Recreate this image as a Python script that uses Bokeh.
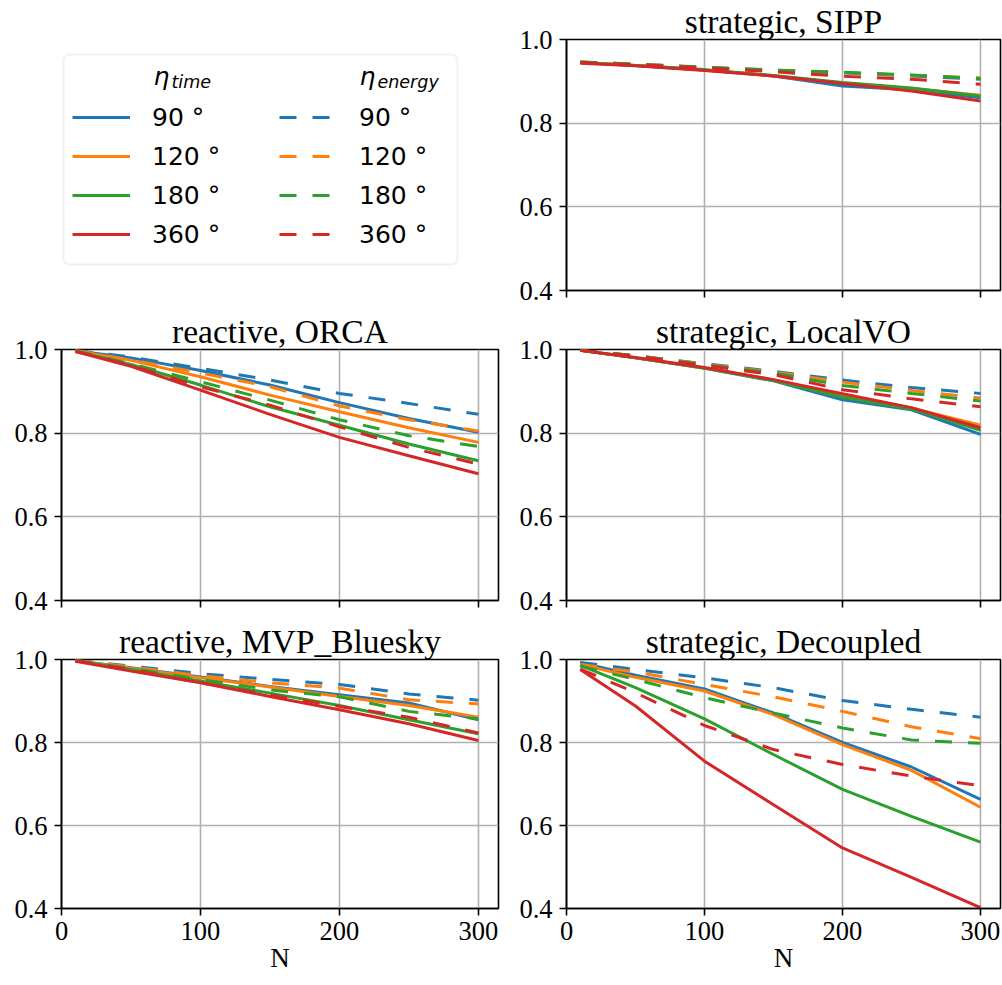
from bokeh.plotting import figure
from bokeh.models import (Range1d, FixedTicker, NumeralTickFormatter, Legend, LegendItem,
                          Label, BoxAnnotation)
from bokeh.layouts import row, column
from bokeh.embed import file_html
from bokeh.resources import INLINE

# ---------------- data ----------------
N = [10, 50, 100, 150, 200, 250, 300]
angle_labels = ["90 °", "120 °", "180 °", "360 °"]
colors = ["#1f77b4", "#ff7f0e", "#2ca02c", "#d62728"]
x_ticks = [0, 100, 200, 300]
y_ticks = [0.4, 0.6, 0.8, 1.0]

# each list of lists is ordered 90°, 120°, 180°, 360°
sipp_time = [
    [0.945, 0.938, 0.927, 0.913, 0.889, 0.880, 0.861],
    [0.945, 0.938, 0.927, 0.913, 0.896, 0.883, 0.867],
    [0.945, 0.938, 0.928, 0.914, 0.897, 0.884, 0.865],
    [0.943, 0.937, 0.926, 0.913, 0.895, 0.877, 0.853],
]
sipp_energy = [
    [0.946, 0.941, 0.933, 0.926, 0.920, 0.913, 0.905],
    [0.946, 0.941, 0.933, 0.927, 0.921, 0.914, 0.908],
    [0.946, 0.941, 0.934, 0.927, 0.922, 0.915, 0.907],
    [0.945, 0.940, 0.932, 0.923, 0.912, 0.905, 0.893],
]
orca_time = [
    [0.997, 0.980, 0.950, 0.915, 0.873, 0.835, 0.802],
    [0.997, 0.974, 0.935, 0.891, 0.851, 0.813, 0.778],
    [0.996, 0.964, 0.915, 0.863, 0.819, 0.774, 0.734],
    [0.995, 0.960, 0.903, 0.845, 0.790, 0.746, 0.703],
]
orca_energy = [
    [0.998, 0.982, 0.955, 0.927, 0.895, 0.871, 0.845],
    [0.998, 0.975, 0.944, 0.911, 0.865, 0.832, 0.805],
    [0.997, 0.966, 0.923, 0.879, 0.832, 0.794, 0.768],
    [0.996, 0.962, 0.911, 0.867, 0.815, 0.766, 0.726],
]
localvo_time = [
    [0.998, 0.980, 0.955, 0.925, 0.880, 0.856, 0.797],
    [0.998, 0.980, 0.956, 0.927, 0.890, 0.860, 0.819],
    [0.998, 0.980, 0.956, 0.926, 0.886, 0.858, 0.807],
    [0.998, 0.981, 0.957, 0.928, 0.894, 0.861, 0.813],
]
localvo_energy = [
    [0.998, 0.985, 0.966, 0.948, 0.927, 0.909, 0.895],
    [0.998, 0.985, 0.965, 0.946, 0.922, 0.902, 0.884],
    [0.998, 0.985, 0.964, 0.944, 0.914, 0.895, 0.877],
    [0.998, 0.984, 0.962, 0.940, 0.904, 0.882, 0.863],
]
mvp_time = [
    [0.997, 0.980, 0.958, 0.935, 0.915, 0.895, 0.855],
    [0.997, 0.979, 0.956, 0.934, 0.911, 0.889, 0.861],
    [0.997, 0.976, 0.948, 0.919, 0.889, 0.855, 0.821],
    [0.996, 0.972, 0.944, 0.911, 0.879, 0.845, 0.805],
]
mvp_energy = [
    [0.998, 0.984, 0.966, 0.952, 0.940, 0.917, 0.902],
    [0.998, 0.982, 0.961, 0.944, 0.931, 0.903, 0.893],
    [0.997, 0.979, 0.952, 0.927, 0.910, 0.875, 0.857],
    [0.997, 0.976, 0.944, 0.915, 0.887, 0.861, 0.823],
]
decoupled_time = [
    [0.992, 0.962, 0.929, 0.871, 0.800, 0.741, 0.663],
    [0.988, 0.957, 0.924, 0.867, 0.795, 0.733, 0.644],
    [0.986, 0.932, 0.857, 0.771, 0.687, 0.622, 0.560],
    [0.976, 0.888, 0.755, 0.650, 0.546, 0.475, 0.402],
]
decoupled_energy = [
    [0.993, 0.976, 0.956, 0.932, 0.901, 0.880, 0.861],
    [0.988, 0.970, 0.940, 0.910, 0.875, 0.838, 0.809],
    [0.984, 0.952, 0.908, 0.871, 0.835, 0.806, 0.798],
    [0.977, 0.920, 0.841, 0.783, 0.747, 0.719, 0.696],
]

SERIF = "Liberation Serif"
SANS = "DejaVu Sans"
DASH = "17 16"
LW = 3


def panel(title, t_series, e_series, width, height, bl, br, bt, bb, show_x):
    p = figure(width=width, height=height,
               x_range=Range1d(0, 314.5), y_range=Range1d(0.4, 1.0),
               output_backend="svg", toolbar_location=None,
               min_border_left=bl, min_border_right=br,
               min_border_top=bt, min_border_bottom=bb,
               title=title)
    p.title.text_font = SERIF
    p.title.text_font_size = "33.5px"
    p.title.text_font_style = "normal"
    p.title.text_color = "black"
    p.title.align = "center"
    p.title.standoff = 0
    p.outline_line_color = "black"
    p.outline_line_width = 1.6
    p.outline_line_alpha = 1
    p.background_fill_color = "white"
    p.border_fill_color = "white"
    for ax in p.axis:
        ax.axis_line_color = "black"
        ax.axis_line_width = 1.6
        ax.major_tick_line_color = "black"
        ax.major_tick_line_width = 1.6
        ax.major_tick_in = 0
        ax.major_tick_out = 7
        ax.minor_tick_line_color = None
        ax.major_label_text_font = SERIF
        ax.major_label_text_font_size = "26.5px"
        ax.major_label_text_color = "black"
        ax.major_label_standoff = 7
    p.xaxis.ticker = FixedTicker(ticks=x_ticks)
    p.yaxis.ticker = FixedTicker(ticks=y_ticks)
    p.yaxis.formatter = NumeralTickFormatter(format="0.0")
    p.grid.grid_line_color = "#b0b0b0"
    p.grid.grid_line_width = 1.6
    if show_x:
        p.xaxis.major_label_standoff = 6
        p.xaxis.axis_label = "N"
        p.xaxis.axis_label_text_font = SERIF
        p.xaxis.axis_label_text_font_size = "27px"
        p.xaxis.axis_label_text_font_style = "normal"
        p.xaxis.axis_label_text_color = "black"
        p.xaxis.axis_label_standoff = 0
    else:
        # shared x axis: tick marks only, no labels
        p.xaxis.major_label_text_font_size = "1px"
        p.xaxis.major_label_text_color = None
        p.xaxis.major_label_standoff = 0
    for i in range(4):
        p.line(N, t_series[i], line_color=colors[i], line_width=LW)
        p.line(N, e_series[i], line_color=colors[i], line_width=LW, line_dash=DASH)
    return p


# geometry of the grid (figure sizes / borders)
LW_FIG, RW_FIG = 516, 486
H1, H2, H3 = 306, 310, 368

sipp = panel("strategic, SIPP", sipp_time, sipp_energy, RW_FIG, H1, 48, 2, 39, 16, False)
orca = panel("reactive, ORCA", orca_time, orca_energy, LW_FIG, H2, 61, 18, 43, 16, False)
localvo = panel("strategic, LocalVO", localvo_time, localvo_energy, RW_FIG, H2, 48, 2, 43, 16, False)
mvp = panel("reactive, MVP_Bluesky", mvp_time, mvp_energy, LW_FIG, H3, 61, 18, 43, 76, True)
decoupled = panel("strategic, Decoupled", decoupled_time, decoupled_energy, RW_FIG, H3, 48, 2, 43, 76, True)

# ---------------- legend panel ----------------
# the legend renderers reuse the SIPP series but lie outside this panel's view
lf = figure(width=LW_FIG, height=H1, x_range=Range1d(-20, -15), y_range=Range1d(0, 1),
            x_axis_type=None, y_axis_type=None, output_backend="svg",
            toolbar_location=None, min_border=0)
lf.outline_line_color = None
lf.grid.visible = False

legend_style = dict(label_text_font=SANS, label_text_font_size="25px",
                    label_text_color="black",
                    glyph_width=58, glyph_height=30, label_height=30,
                    label_standoff=22, spacing=9, padding=10, margin=0,
                    border_line_color=None, background_fill_alpha=0)

for series, dash, loc in [(sipp_time, "solid", (72, 41)), (sipp_energy, DASH, (279, 41))]:
    hdr = lf.line(N, series[0], line_alpha=0)
    its = [LegendItem(label=" ", renderers=[hdr])]
    for i in range(4):
        r = lf.line(N, series[i], line_color=colors[i], line_width=LW, line_dash=dash)
        its.append(LegendItem(label=angle_labels[i], renderers=[r]))
    lg = Legend(items=its, orientation="vertical", location=loc, **legend_style)
    lf.add_layout(lg)

lf.add_layout(BoxAnnotation(left=63, right=457, bottom=26, top=236,
                            left_units="screen", right_units="screen",
                            bottom_units="screen", top_units="screen",
                            fill_alpha=0, line_color="#cccccc", line_width=1.8,
                            border_radius=6, level="overlay"))

for txt, x, y, size in [("η", 153, 214, "25px"), ("time", 171, 209, "17.5px"),
                        ("η", 359, 214, "25px"), ("energy", 377, 209, "17.5px")]:
    lf.add_layout(Label(x=x, y=y, x_units="screen", y_units="screen", text=txt,
                        text_font=SANS, text_font_style="italic", text_font_size=size,
                        text_baseline="alphabetic", text_color="black", level="overlay"))

layout = column(row(lf, sipp), row(orca, localvo), row(mvp, decoupled))

open("out.html", "w").write(file_html(layout, INLINE))
